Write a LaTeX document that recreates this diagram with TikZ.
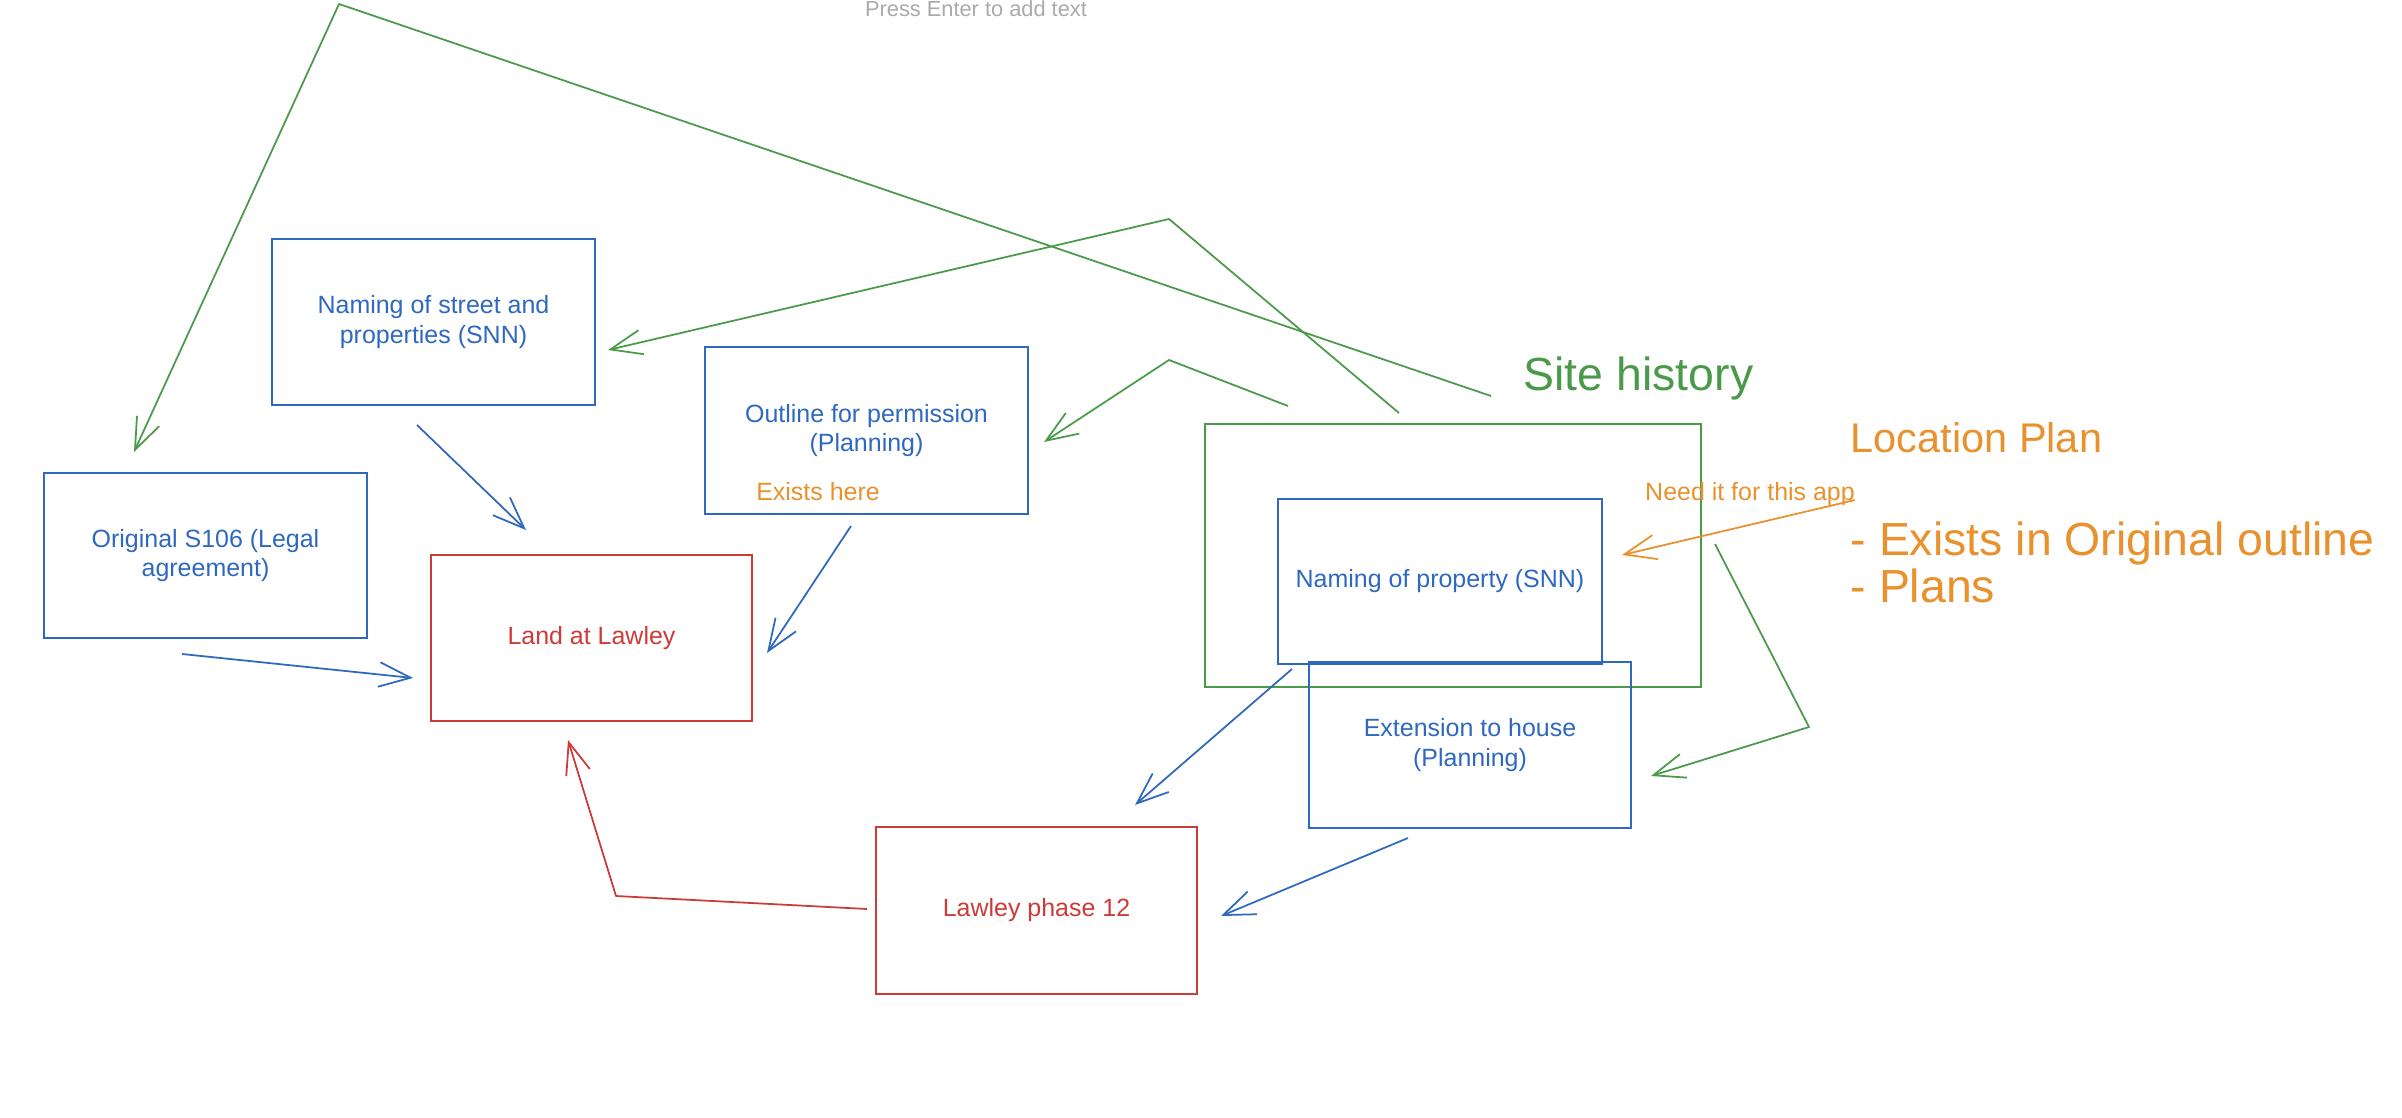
\documentclass[tikz,border=0pt]{standalone}
\usepackage{fontspec}
\setmainfont{Liberation Sans}
\usetikzlibrary{arrows.meta}
\definecolor{exblue}{RGB}{47,104,191}
\definecolor{exred}{RGB}{204,59,56}
\definecolor{exgreen}{RGB}{74,154,74}
\definecolor{exorange}{RGB}{232,145,45}
\definecolor{exgray}{RGB}{170,170,170}
\tikzset{
  box/.style={draw, line width=0.55pt, inner sep=0pt, align=center,
    minimum width=3.23cm, minimum height=1.66cm,
    font=\fontsize{7.1pt}{8.3pt}\selectfont},
  bluebox/.style={box, draw=exblue, text=exblue},
  redbox/.style={box, draw=exred, text=exred},
  link/.style={line width=0.5pt, line join=round, -{Straight Barb[length=9pt,width=7pt]}},
  bluelink/.style={link, draw=exblue},
  greenlink/.style={link, draw=exgreen},
  redlink/.style={link, draw=exred},
  orangelink/.style={link, draw=exorange},
  bigtext/.style={font=\fontsize{13.2pt}{15pt}\selectfont, inner sep=0pt},
  smalltext/.style={font=\fontsize{7.1pt}{8pt}\selectfont, inner sep=0pt}
}
\begin{document}
\begin{tikzpicture}[x=0.01cm, y=-0.01cm]
\useasboundingbox (0,0) rectangle (2402,1118);

% hint text
\node[smalltext, text=exgray, anchor=base, font=\fontsize{6.2pt}{7pt}\selectfont] (press) at (976,16) {Press Enter to add text};

% boxes
\node[bluebox] (nst) at (433.5,322) {Naming of street and\\properties (SNN)};
\node[bluebox, minimum height=1.67cm] (outl) at (866.5,430.5) {Outline for permission\\(Planning)};
\node[smalltext, text=exorange, anchor=base] (exh) at (818,500) {Exists here};
\node[bluebox, minimum height=1.65cm] (s106) at (205.5,555.5) {Original S106 (Legal\\agreement)};
\node[redbox, minimum width=3.21cm] (land) at (591.5,638) {Land at Lawley};
\node[redbox, minimum width=3.21cm, minimum height=1.67cm] (ph12) at (1036.5,910.5) {Lawley phase 12};

\node[draw=exgreen, line width=0.55pt, minimum width=4.96cm, minimum height=2.63cm, inner sep=0pt] (site) at (1453,555.5) {};
\node[bluebox, minimum width=3.24cm, minimum height=1.65cm] (nprop) at (1440,581.5) {Naming of property (SNN)};
\node[bluebox, minimum width=3.22cm] (ext) at (1470,745) {Extension to house\\(Planning)};

% labels
\node[bigtext, text=exgreen, anchor=base west] (sitet) at (1523,390) {Site history};
\node[bigtext, text=exorange, anchor=base west, font=\fontsize{11.8pt}{14pt}\selectfont] (locp) at (1850,452) {Location Plan};
\node[bigtext, text=exorange, anchor=base west] (ex1) at (1850,555) {- Exists in Original outline};
\node[bigtext, text=exorange, anchor=base west] (ex2) at (1850,602) {- Plans};
\node[smalltext, text=exorange, anchor=base] (need) at (1750,500) {Need it for this app};

% coordinates for connectors
\coordinate (a0) at (1491,396); \coordinate (a1) at (339,4);    \coordinate (a2) at (134,452);
\coordinate (b0) at (1399,413); \coordinate (b1) at (1169,219); \coordinate (b2) at (608,350);
\coordinate (c0) at (1288,406); \coordinate (c1) at (1169,360); \coordinate (c2) at (1044,442);
\coordinate (d0) at (1715,544); \coordinate (d1) at (1809,727); \coordinate (d2) at (1651,776);
\coordinate (j0) at (867,909);  \coordinate (j1) at (616,896);  \coordinate (j2) at (568,740);
\coordinate (e0) at (417,425);  \coordinate (e1) at (526,530);
\coordinate (f0) at (851,526);  \coordinate (f1) at (767,653);
\coordinate (g0) at (182,654);  \coordinate (g1) at (413,678);
\coordinate (h0) at (1292,669); \coordinate (h1) at (1135,805);
\coordinate (i0) at (1408,838); \coordinate (i1) at (1221,916);
\coordinate (o0) at (1855,500); \coordinate (o1) at (1622,555);

% green connectors
\draw[greenlink] (a0) -- (a1) -- (a2);
\draw[greenlink] (b0) -- (b1) -- (b2);
\draw[greenlink] (c0) -- (c1) -- (c2);
\draw[greenlink] (d0) -- (d1) -- (d2);

% blue connectors
\draw[bluelink] (e0) -- (e1);
\draw[bluelink] (f0) -- (f1);
\draw[bluelink] (g0) -- (g1);
\draw[bluelink] (h0) -- (h1);
\draw[bluelink] (i0) -- (i1);

% red connector
\draw[redlink] (j0) -- (j1) -- (j2);

% orange connector
\draw[orangelink] (o0) -- (o1);
\end{tikzpicture}
\end{document}
